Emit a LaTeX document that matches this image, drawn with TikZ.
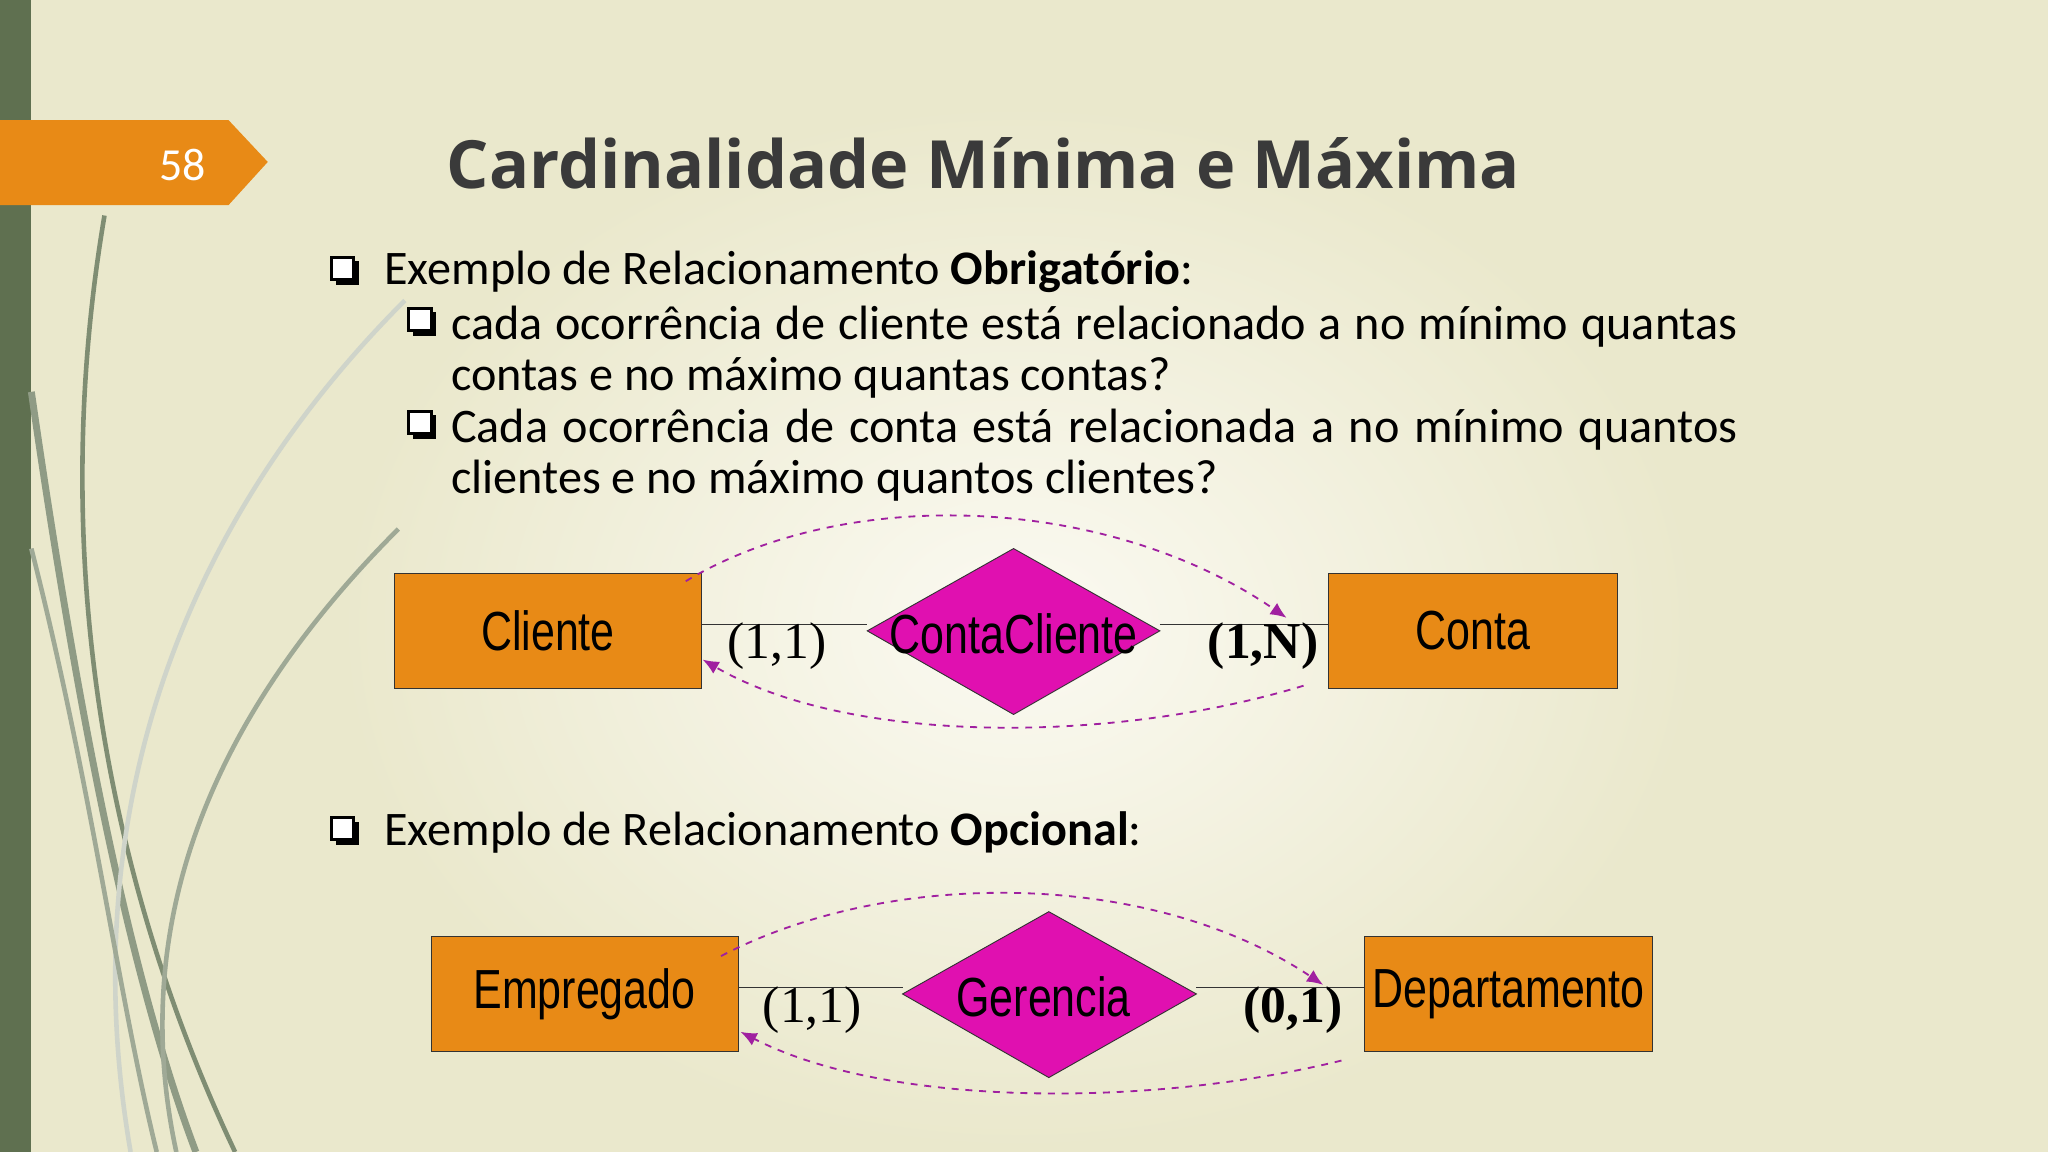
\documentclass[tikz,border=0pt]{standalone}
\usepackage{fontspec}
\setmainfont{Carlito}
\newfontfamily\titlefont{Open Sans}
\newfontfamily\boxfont[FakeStretch=0.78]{Liberation Sans}
\newfontfamily\timesfont{Liberation Serif}
\usetikzlibrary{shapes.geometric,arrows.meta}
\definecolor{bg}{HTML}{EAE8CC}
\definecolor{bgc}{HTML}{FBFAF2}
\definecolor{barg}{HTML}{5F7050}
\definecolor{tab}{HTML}{E88A16}
\definecolor{boxo}{HTML}{E88A16}
\definecolor{dia}{HTML}{E010B0}
\definecolor{arr}{HTML}{A020A0}
\definecolor{tcol}{HTML}{3A3A3A}
\tikzset{
 ent/.style={draw=black!80,fill=boxo,minimum width=235*0.02cm,minimum height=88*0.02cm,font=\boxfont\fontsize{24}{24}\selectfont,inner sep=0pt},
 reltext/.style={font=\boxfont\fontsize{24}{24}\selectfont,inner sep=0pt},
 card/.style={font=\timesfont\fontsize{22.5}{22.5}\selectfont},
 flow/.style={draw=arr,dashed,thick,-{Latex[length=7pt,width=6pt]}},
 conn/.style={draw=black!80},
 body/.style={font=\fontsize{21}{22.2}\selectfont,text=black,anchor=west,inner sep=0pt},
}
\newcommand{\qbox}[1]{\begin{scope}[shift={#1}]\fill[black] (-6,-8)rectangle(12,10);\fill[white](-9,-11)rectangle(8,6);\draw[black,line width=1.3pt](-9,-11)rectangle(8,6);\end{scope}}
\begin{document}
\begin{tikzpicture}[x=0.02cm,y=-0.02cm]
\useasboundingbox (0,0) rectangle (1568,882);
\fill[bg] (0,0) rectangle (1568,882);
\shade[inner color=bgc,outer color=bg] (780,480) ellipse (520 and 400);
\fill[barg] (0,0) rectangle (24,882);
\draw[barg!80,line width=2pt] (80,165) .. controls (40,400) and (70,650) .. (180,882);
\draw[barg!70,line width=3pt] (24,300) .. controls (60,550) and (100,750) .. (150,882);
\draw[barg!60,line width=2pt] (305,405) .. controls (150,560) and (100,720) .. (135,882);
\draw[barg!30,line width=2pt] (310,230) .. controls (120,420) and (60,650) .. (100,882);
\draw[barg!60,line width=2pt] (24,420) .. controls (70,600) and (90,760) .. (120,882);
\fill[tab] (0,92) -- (175,92) -- (205,124) -- (175,157) -- (0,157) -- cycle;
\node[text=white,font=\fontsize{20}{20}\selectfont] (num) at (140,126) {58};
\node[text=tcol,font=\titlefont\bfseries\fontsize{29}{29}\selectfont] (title) at (753,125) {Cardinalidade Mínima e Máxima};
\qbox{(263,208)}
\node[body] (b1) at (294,208) {Exemplo de Relacionamento \textbf{Obrigatório}:};
\qbox{(322,247)}
\node[body,anchor=north west,text width=985*0.02cm,align=justify] (b2) at (345,234) {cada ocorrência de cliente está relacionado a no mínimo quantas contas e no máximo quantas contas?};
\qbox{(322,326)}
\node[body,anchor=north west,text width=985*0.02cm,align=justify] (b3) at (345,313) {Cada ocorrência de conta está relacionada a no mínimo quantos clientes e no máximo quantos clientes?};
\qbox{(263,637)}
\node[body] (b4) at (294,637) {Exemplo de Relacionamento \textbf{Opcional}:};
% diagram 1
\node[ent] (cli) at (419.5,483) {Cliente};
\node[ent,minimum width=221*0.02cm] (con) at (1127.5,483) {Conta};
\fill[dia,draw=black!80] (664,483) -- (776,420) -- (888,483) -- (776,547) -- cycle;
\node[reltext] (cc) at (776,485) {ContaCliente};
\coordinate (cw) at (664,478); \coordinate (ce) at (888,478);
\draw[conn] (cli.east|-cw) -- (cw);
\draw[conn] (ce) -- (con.west|-ce);
\node[card] (l1) at (595,495) {(1,1)};
\node[card,font=\timesfont\bfseries\fontsize{22.5}{22.5}\selectfont] (l2) at (967,495) {(1,N)};
\coordinate (s1) at (525,445); \coordinate (e1) at (985,473);
\draw[flow] (s1) .. controls (650,370) and (850,380) .. (e1);
\coordinate (s2) at (998,525); \coordinate (e2) at (538,505);
\draw[flow] (s2) .. controls (850,570) and (650,570) .. (e2);
% diagram 2
\node[ent] (emp) at (447.5,761) {Empregado};
\node[ent,minimum width=220*0.02cm] (dep) at (1155,761) {Departamento};
\fill[dia,draw=black!80] (691,761) -- (803,698) -- (916,761) -- (803,825) -- cycle;
\node[reltext] (ger) at (799,763) {Gerencia};
\coordinate (gw) at (691,756); \coordinate (ge) at (916,756);
\draw[conn] (emp.east|-gw) -- (gw);
\draw[conn] (ge) -- (dep.west|-ge);
\node[card] (l3) at (622,773) {(1,1)};
\node[card,font=\timesfont\bfseries\fontsize{22.5}{22.5}\selectfont] (l4) at (990,773) {(0,1)};
\coordinate (s3) at (552,732); \coordinate (e3) at (1013,754);
\draw[flow] (s3) .. controls (680,665) and (880,665) .. (e3);
\coordinate (s4) at (1027,812); \coordinate (e4) at (567,790);
\draw[flow] (s4) .. controls (880,848) and (680,848) .. (e4);
\end{tikzpicture}
\end{document}
